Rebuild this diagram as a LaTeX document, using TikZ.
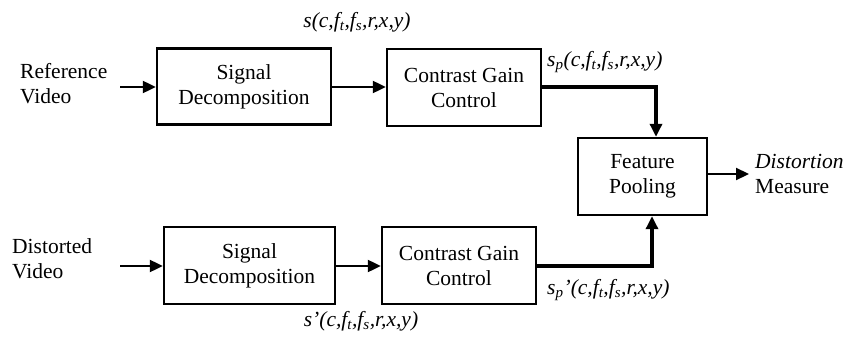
\documentclass[tikz,border=0pt]{standalone}
\usepackage{fontspec}
\setmainfont{Liberation Serif}
\usetikzlibrary{arrows.meta}
\begin{document}
\begin{tikzpicture}[x=1pt,y=-1pt,
  font=\fontsize{21.5}{25}\selectfont,
  blk/.style={draw,line width=2.4pt,align=center,inner sep=0pt},
  lab/.style={align=left,inner sep=0pt},
  sig/.style={inner sep=0pt,font=\fontsize{21.5}{24}\selectfont\itshape},
  arr/.style={line width=2.2pt,-{Triangle[length=13pt,width=12pt]}},
  tarr/.style={line width=3.2pt,-{Triangle[length=13pt,width=12pt]}}]
\useasboundingbox (0,0) rectangle (846,337);
% top row
\node[lab,anchor=west] (ref) at (20,84) {Reference\\Video};
\node[blk,minimum width=174pt,minimum height=76pt] (sd1) at (244,86.5) {Signal\\Decomposition};
\node[blk,minimum width=154pt,minimum height=77pt] (cg1) at (464,87.5) {Contrast Gain\\Control};
\coordinate (in1) at (120,87);
% bottom row
\node[lab,anchor=west] (dis) at (12,259) {Distorted\\Video};
\node[blk,minimum width=171pt,minimum height=77pt] (sd2) at (249.5,265.5) {Signal\\Decomposition};
\node[blk,minimum width=154pt,minimum height=77pt] (cg2) at (459,265.5) {Contrast Gain\\Control};
\coordinate (in2) at (120,266);
% pooling
\node[blk,minimum width=129pt,minimum height=77pt] (fp) at (642.5,176.5) {Feature\\Pooling};
\node[lab,anchor=west] (out) at (755,174) {\textit{Distortion}\\Measure};
% labels
\node[sig] (l1) at (357,22) {s(c,f\textsubscript{t},f\textsubscript{s},r,x,y)};
\node[sig,anchor=west] (l2) at (547,62) {s\textsubscript{p}(c,f\textsubscript{t},f\textsubscript{s},r,x,y)};
\node[sig] (l3) at (361,321) {s'(c,f\textsubscript{t},f\textsubscript{s},r,x,y)};
\node[sig,anchor=west] (l4) at (547,290) {s\textsubscript{p}'(c,f\textsubscript{t},f\textsubscript{s},r,x,y)};
% connectors
\draw[arr] (in1) -- (sd1.west |- in1);
\draw[arr] (sd1.east |- in1) -- (cg1.west |- in1);
\draw[tarr] (cg1.east |- in1) -| (656,0 |- fp.north);
\draw[arr] (in2) -- (sd2.west |- in2);
\draw[arr] (sd2.east |- in2) -- (cg2.west |- in2);
\draw[tarr] (cg2.east |- in2) -| (652,0 |- fp.south);
\draw[arr] (fp.east |- 0,174) -- (749,174);
\end{tikzpicture}
\end{document}
